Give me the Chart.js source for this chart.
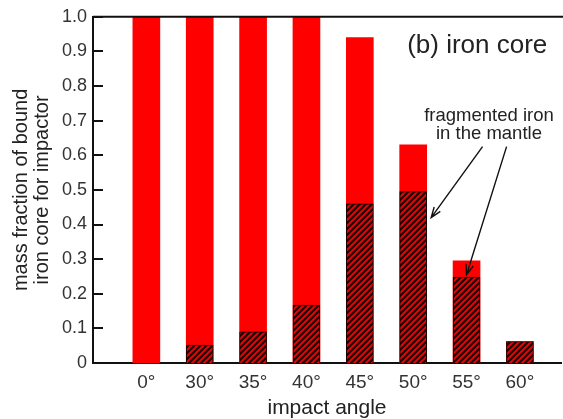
<!DOCTYPE html>
<html>
<head>
<meta charset="utf-8">
<script src="https://cdn.jsdelivr.net/npm/chart.js@4.4.0/dist/chart.umd.min.js"></script>
<style>
  html, body { margin: 0; padding: 0; background: #fff; }
  canvas { display: block; }
</style>
</head>
<body>
<canvas id="ironChart" width="563" height="419"></canvas>
<script>
var angles = ['0°', '30°', '35°', '40°', '45°', '50°', '55°', '60°'];
var boundCore = [1.0, 1.0, 1.0, 1.0, 0.94, 0.63, 0.295, 0.062];
var fragmented = [0, 0.052, 0.09, 0.167, 0.46, 0.495, 0.248, 0.062];
var yTicks = [0, 0.1, 0.2, 0.3, 0.4, 0.5, 0.6, 0.7, 0.8, 0.9, 1.0];

var FONT = '"Liberation Sans", Arial, sans-serif';

function hatch() {
    var s = 6;
    var c = document.createElement('canvas');
    c.width = s; c.height = s;
    var g = c.getContext('2d');
    g.fillStyle = '#f00000';
    g.fillRect(0, 0, s, s);
    g.strokeStyle = '#220000';
    g.lineWidth = 2.2;
    g.beginPath();
    g.moveTo(0, s); g.lineTo(s, 0);
    g.moveTo(-2, 2); g.lineTo(2, -2);
    g.moveTo(s - 2, s + 2); g.lineTo(s + 2, s - 2);
    g.stroke();
    return g.createPattern(c, 'repeat');
}

function points(vals) {
    let out = [];
    for (let i = 0; i < vals.length; i++) out.push({x: i, y: vals[i]});
    return out;
}

// frame, inward y ticks, label and arrows
var extras = {
    id: 'extras',
    afterDraw(chart) {
        var ctx = chart.ctx, a = chart.chartArea;
        var x = chart.scales.x, y = chart.scales.y;
        ctx.save();
        ctx.strokeStyle = '#111';
        ctx.lineWidth = 2;
        ctx.beginPath();
        ctx.moveTo(a.left, a.top); ctx.lineTo(a.right + 2, a.top);
        for (let v of yTicks) {
            let py = Math.round(y.getPixelForValue(v));
            ctx.moveTo(a.left, py); ctx.lineTo(a.left + 10, py);
        }
        ctx.stroke();

        ctx.fillStyle = '#222';
        ctx.textAlign = 'center';
        ctx.textBaseline = 'alphabetic';
        ctx.font = '26px ' + FONT;
        ctx.fillText('(b) iron core', x.getPixelForValue(6.2), y.getPixelForValue(0.895));
        ctx.font = '18.5px ' + FONT;
        ctx.fillText('fragmented iron', x.getPixelForValue(6.42), y.getPixelForValue(0.7));
        ctx.fillText('in the mantle', x.getPixelForValue(6.42), y.getPixelForValue(0.648));

        // arrows
        ctx.strokeStyle = '#111';
        ctx.lineWidth = 1.4;
        var arrows = [
            [x.getPixelForValue(6.3), y.getPixelForValue(0.625), x.getPixelForValue(5) + 18, y.getPixelForValue(0.42)],
            [x.getPixelForValue(6.75), y.getPixelForValue(0.625), x.getPixelForValue(6), y.getPixelForValue(0.255)]
        ];
        for (let ar of arrows) {
            let ang = Math.atan2(ar[3] - ar[1], ar[2] - ar[0]);
            ctx.beginPath();
            ctx.moveTo(ar[0], ar[1]); ctx.lineTo(ar[2], ar[3]);
            ctx.moveTo(ar[2] - 11 * Math.cos(ang - 0.35), ar[3] - 11 * Math.sin(ang - 0.35));
            ctx.lineTo(ar[2], ar[3]);
            ctx.lineTo(ar[2] - 11 * Math.cos(ang + 0.35), ar[3] - 11 * Math.sin(ang + 0.35));
            ctx.stroke();
        }
        ctx.restore();
    }
};

var ctx = document.getElementById('ironChart');
var chart = new Chart(ctx, {
    type: 'bar',
    data: {
        datasets: [{
            label: 'fragmented iron in the mantle',
            data: points(fragmented),
            backgroundColor: hatch(),
            borderColor: '#1a0000',
            borderWidth: 1,
            barThickness: 27,
            grouped: false,
            order: 0
        }, {
            label: 'bound iron core',
            data: points(boundCore),
            backgroundColor: '#ff0000',
            borderWidth: 0,
            barThickness: 27,
            grouped: false,
            order: 1
        }]
    },
    options: {
        responsive: false,
        animation: false,
        devicePixelRatio: 1,
        layout: { padding: { top: 16, right: 2, left: 0, bottom: 0 } },
        plugins: {
            legend: { display: false },
            tooltip: { enabled: false }
        },
        scales: {
            x: {
                type: 'linear',
                offset: false,
                min: -1,
                max: 7.77,
                grid: { display: false, drawTicks: false },
                border: { display: true, color: '#111', width: 2 },
                afterBuildTicks: function (s) {
                    s.ticks = angles.map(function (l, i) { return {value: i}; });
                },
                afterFit: function (s) { s.height = 56; },
                ticks: {
                    padding: 8,
                    color: '#333',
                    font: { family: FONT, size: 19 },
                    callback: function (v) { return angles[v]; }
                },
                title: {
                    display: true,
                    text: 'impact angle',
                    color: '#222',
                    padding: 0,
                    font: { family: FONT, size: 21, lineHeight: 1.0 }
                }
            },
            y: {
                min: 0,
                max: 1,
                grid: { display: false, drawTicks: false },
                border: { display: true, color: '#111', width: 2 },
                afterBuildTicks: function (s) {
                    s.ticks = yTicks.map(function (v) { return {value: v}; });
                },
                afterFit: function (s) { s.width = 93; },
                ticks: {
                    padding: 6,
                    color: '#333',
                    font: { family: FONT, size: 18 },
                    callback: function (v) { return v === 0 ? '0' : v.toFixed(1); }
                },
                title: {
                    display: true,
                    text: ['mass fraction of bound', 'iron core for impactor'],
                    color: '#222',
                    padding: { top: 11, bottom: 0 },
                    font: { family: FONT, size: 20, lineHeight: 1.05 }
                }
            }
        }
    },
    plugins: [extras]
});
</script>
</body>
</html>
